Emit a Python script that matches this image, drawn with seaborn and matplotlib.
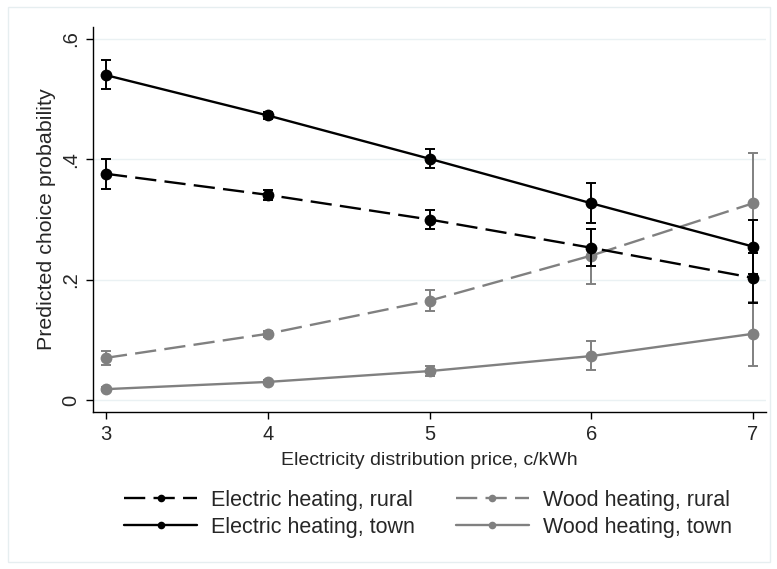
import matplotlib
matplotlib.use("Agg")
import matplotlib.pyplot as plt
import seaborn as sns
import pandas as pd
from matplotlib.patches import Rectangle

price = [3, 4, 5, 6, 7]
elec_rural = [0.376, 0.341, 0.300, 0.253, 0.203]
elec_rural_lo = [0.351, 0.333, 0.285, 0.222, 0.161]
elec_rural_hi = [0.401, 0.349, 0.315, 0.284, 0.245]
elec_town = [0.540, 0.473, 0.401, 0.327, 0.255]
elec_town_lo = [0.517, 0.467, 0.385, 0.295, 0.210]
elec_town_hi = [0.565, 0.479, 0.417, 0.360, 0.300]
wood_rural = [0.070, 0.110, 0.165, 0.240, 0.327]
wood_rural_lo = [0.058, 0.105, 0.148, 0.193, 0.244]
wood_rural_hi = [0.082, 0.115, 0.182, 0.284, 0.410]
wood_town = [0.018, 0.030, 0.048, 0.073, 0.110]
wood_town_lo = [0.015, 0.027, 0.040, 0.050, 0.057]
wood_town_hi = [0.021, 0.033, 0.056, 0.098, 0.163]

labels = ["Electric heating, rural", "Electric heating, town",
          "Wood heating, rural", "Wood heating, town"]
y_ticks = [0, 0.2, 0.4, 0.6]
y_ticklabels = ["0", ".2", ".4", ".6"]

DASH = (0, (9, 3.5))
series = [
    (labels[0], elec_rural, elec_rural_lo, elec_rural_hi, "black", DASH),
    (labels[1], elec_town, elec_town_lo, elec_town_hi, "black", "-"),
    (labels[2], wood_rural, wood_rural_lo, wood_rural_hi, "#808080", DASH),
    (labels[3], wood_town, wood_town_lo, wood_town_hi, "#808080", "-"),
]

sns.set_style("white")
plt.rcParams["font.family"] = ["Liberation Sans", "DejaVu Sans"]

fig = plt.figure(figsize=(7.77, 5.69), dpi=100)
fig.patch.set_facecolor("white")
fig.patches.append(Rectangle((8 / 777, 7 / 569), 762 / 777, 555 / 569,
                             transform=fig.transFigure, fill=False,
                             edgecolor="#e6eef0", linewidth=1.0))
ax = fig.add_axes([93 / 777, 1 - 412 / 569, 673 / 777, 385 / 569])

handles = {}
for name, vals, lo, hi, col, ls in reversed(series):
    df = pd.DataFrame({"price": price, "p": vals})
    sns.lineplot(data=df, x="price", y="p", ax=ax, color=col, linewidth=1.7,
                 linestyle=ls, marker="o", markersize=8.5, markeredgewidth=0,
                 markeredgecolor=col, legend=False)
    ax.errorbar(price, vals,
                yerr=[[v - l for v, l in zip(vals, lo)], [h - v for v, h in zip(vals, hi)]],
                fmt="none", ecolor=col, elinewidth=1.4, capsize=3.6, capthick=1.4)
    handles[name] = plt.Line2D([], [], color=col, linestyle=ls, linewidth=1.7,
                               marker="o", markersize=5.5, markeredgewidth=0)

ax.set_xlim(2.92, 7.08)
ax.set_ylim(-0.02, 0.62)
ax.set_xticks(price)
ax.set_xticklabels([str(p) for p in price], fontsize=14.5)
ax.set_yticks(y_ticks)
ax.set_yticklabels(y_ticklabels, fontsize=14.5, rotation=90, va="center")
ax.tick_params(axis="both", direction="out", length=5, width=1, color="black",
               left=True, bottom=True, pad=4)
ax.grid(axis="y", color="#eaf1f3", linewidth=1.0)
ax.grid(axis="x", visible=False)
for s in ["top", "right"]:
    ax.spines[s].set_visible(False)
for s in ["left", "bottom"]:
    ax.spines[s].set_color("black")
    ax.spines[s].set_linewidth(1.0)
ax.set_xlabel("Electricity distribution price, c/kWh", fontsize=14, labelpad=6)
ax.set_ylabel("Predicted choice probability", fontsize=15.4, labelpad=4)

leg = fig.legend([handles[l] for l in labels], labels, ncol=2, loc="center",
                 bbox_to_anchor=(428 / 777, 1 - 514 / 569), frameon=False,
                 fontsize=15.5, handlelength=3.4, columnspacing=1.9,
                 labelspacing=0.28, handletextpad=0.65)

fig.savefig("out.png", dpi=100, facecolor="white")
